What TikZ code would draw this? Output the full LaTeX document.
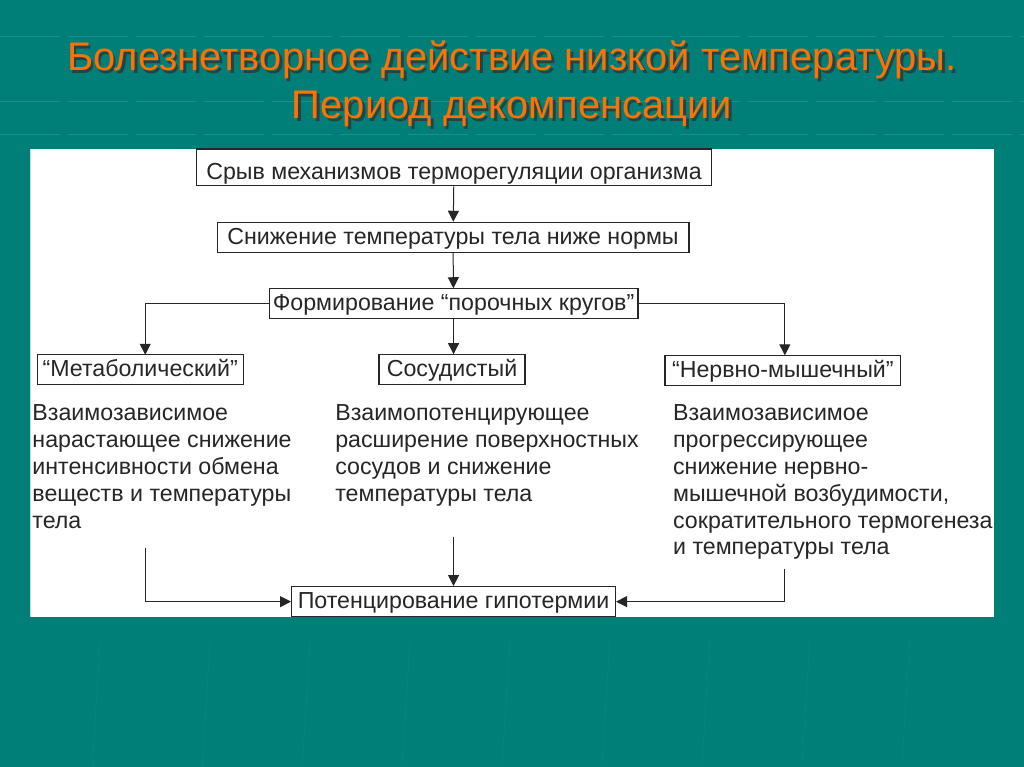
\documentclass[tikz,border=0pt]{standalone}
\usepackage{fontspec}
\setmainfont{Liberation Sans}
\usetikzlibrary{arrows.meta}
\definecolor{slideTeal}{RGB}{0,127,121}
\definecolor{gridTeal}{RGB}{22,145,139}
\definecolor{titleOrange}{RGB}{252,115,5}
\definecolor{inkGray}{RGB}{38,38,38}

\tikzset{
  box/.style={draw=inkGray, line width=1.2pt, fill=white, inner sep=0pt,
    minimum height=30pt, text height=16pt, text depth=2pt,
    font=\fontsize{23.2}{26}\selectfont, text=inkGray},
  note/.style={anchor=north west, align=left, inner sep=0pt,
    font=\fontsize{23.2}{26.8}\selectfont, text=inkGray},
  arr/.style={-{Triangle[length=11pt,width=11pt]}, line width=1pt, draw=inkGray},
  heading/.style={align=center, font=\fontsize{40}{48}\selectfont},
}

\begin{document}
\begin{tikzpicture}[x=1pt, y=-1pt]
        % slide background
        \fill[slideTeal] (0,0) rectangle (1024,767);
        \foreach \yy in {36,101,134}
          \draw[gridTeal, line width=0.6pt, dash pattern=on 60pt off 8pt] (0,\yy) -- (1024,\yy);
        \foreach \xx in {100,210,310,410,510,610,710,810,910}
          \draw[gridTeal, opacity=0.35, line width=0.6pt] (\xx,640) -- (\xx-8,767);
        \useasboundingbox (0,0) rectangle (1024,767);

        % title with shadow
        \node[heading, text=black!80, opacity=0.8] (titleshadow) at (514.5,86.5)
          {Болезнетворное действие низкой температуры.\\Период декомпенсации};
        \node[heading, text=titleOrange] (title) at (512,84)
          {Болезнетворное действие низкой температуры.\\Период декомпенсации};

        % white panel
        \fill[white] (30,149) rectangle (994,617);
        \draw[cyan!30, line width=1pt] (30.5,149) -- (30.5,617);

        % boxes
        \node[box, minimum width=516pt, minimum height=37pt, text height=23.6pt, text depth=0pt] (failure) at (454,167.5)
          {Срыв механизмов терморегуляции организма};
        \node[box, minimum width=472pt] (cooling) at (453,237.5)
          {Снижение температуры тела ниже нормы};
        \node[box, minimum width=369pt] (circles) at (453.5,304)
          {Формирование “порочных кругов”};
        \node[box, minimum width=206pt] (metabolic) at (140,370)
          {“Метаболический”};
        \node[box, minimum width=146pt] (vascular) at (452,370)
          {Сосудистый};
        \node[box, minimum width=236pt] (neuromuscular) at (783,370.5)
          {“Нервно-мышечный”};
        \node[box, minimum width=324pt] (hypothermia) at (453.5,602)
          {Потенцирование гипотермии};

        % descriptions
        \node[note] (metatext) at (32,405)
          {Взаимозависимое\\нарастающее снижение\\интенсивности обмена\\веществ и температуры\\тела};
        \node[note] (vasctext) at (335,405)
          {Взаимопотенцирующее\\расширение поверхностных\\сосудов и снижение\\температуры тела};
        \node[note] (neurotext) at (673,405)
          {Взаимозависимое\\прогрессирующее\\снижение нервно-\\мышечной возбудимости,\\сократительного термогенеза\\и температуры тела};

        \coordinate (leftin) at (145,355);
        \coordinate (rightin) at (785,355.5);
        \coordinate (leftend) at (145,548);
        \coordinate (midend) at (453.5,537);
        \coordinate (rightend) at (785,569);

        % connectors
        \draw[arr] (failure) -- (cooling);
        \draw[arr] (cooling) -- (circles);
        \draw[arr] (circles) -- (circles |- vascular.north);
        \draw[arr] (circles.west) -| (leftin);
        \draw[arr] (circles.east) -| (rightin);
        \draw[arr] (leftend) |- (hypothermia.west);
        \draw[arr] (midend) -- (hypothermia.north);
        \draw[arr] (rightend) |- (hypothermia.east);
      \end{tikzpicture}
\end{document}
